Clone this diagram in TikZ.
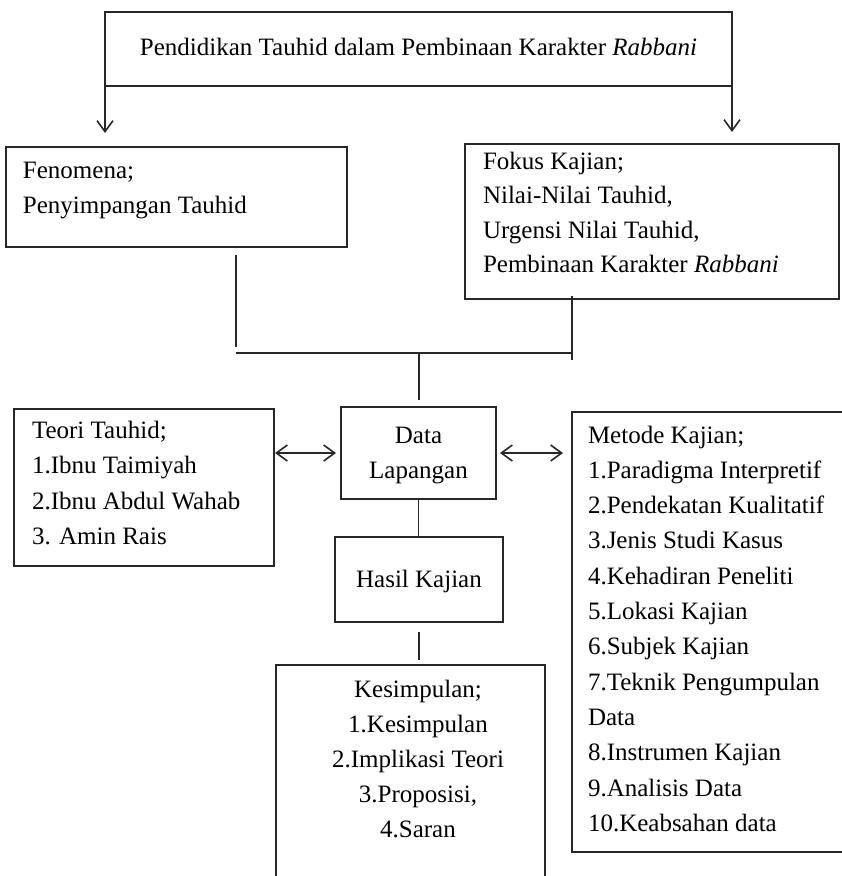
\documentclass[tikz,border=0pt]{standalone}
\usepackage{fontspec}
\setmainfont{Liberation Serif}
\usetikzlibrary{arrows.meta}
\definecolor{ink}{RGB}{40,40,40}
\begin{document}
\begin{tikzpicture}[x=1pt,y=-1pt,
  box/.style={draw=ink, line width=1.6pt, rectangle, inner sep=0pt, outer sep=0pt},
  link/.style={draw=ink, line width=1.6pt},
  barb/.tip={Straight Barb[length=11pt,width=16pt]},
  tip/.style={-barb},
  dtip/.style={barb-barb},
  txt/.style={inner sep=0pt, outer sep=0pt, text=black, font=\fontsize{25}{35}\selectfont}]

\useasboundingbox (0,0) rectangle (842,876);
\clip (0,0) rectangle (842,876);

% frames
\node[box, minimum width=627pt, minimum height=74pt]  (title)      at (418.5,49)  {};
\node[box, minimum width=341pt, minimum height=100pt] (fenomena)   at (176.5,197) {};
\node[box, minimum width=374pt, minimum height=155pt] (fokus)      at (652,221.5) {};
\node[box, minimum width=260pt, minimum height=157pt] (teori)      at (144,487.5) {};
\node[box, minimum width=155pt, minimum height=92pt]  (data)       at (418.5,453) {};
\node[box, minimum width=278pt, minimum height=440pt] (metode)     at (711,632)   {};
\node[box, minimum width=168pt, minimum height=85pt]  (hasil)      at (419,579.5) {};
\node[box, minimum width=269pt, minimum height=235pt] (kesimpulan) at (410.5,782.5) {};

% texts
\node[txt, anchor=base] (titletext) at (418.5,55)
  {Pendidikan Tauhid dalam Pembinaan Karakter \textit{Rabbani}};
\node[txt, anchor=base west] (fenomenatext) at (23,178)
  {\parbox[t]{320pt}{\fontsize{25}{35}\selectfont\raggedright
   Fenomena;\\Penyimpangan Tauhid}};
\node[txt, anchor=base west] (fokustext) at (483,169)
  {\parbox[t]{350pt}{\fontsize{25}{34.5}\selectfont\raggedright
   Fokus Kajian;\\Nilai-Nilai Tauhid,\\Urgensi Nilai Tauhid,\\Pembinaan Karakter \textit{Rabbani}}};
\node[txt, anchor=base west] (teoritext) at (32,438)
  {\parbox[t]{240pt}{\fontsize{25}{35.5}\selectfont\raggedright
   Teori Tauhid;\\1.Ibnu Taimiyah\\2.Ibnu Abdul Wahab\\3. Amin Rais}};
\node[txt, anchor=base] (datatext) at (418.5,443)
  {\parbox[t]{150pt}{\fontsize{25}{35}\selectfont\centering
   Data\\Lapangan}};
\node[txt, anchor=base] (hasiltext) at (419,587) {Hasil Kajian};
\node[txt, anchor=base] (kesimpulantext) at (418,697)
  {\parbox[t]{260pt}{\fontsize{25}{35}\selectfont\centering
   Kesimpulan;\\1.Kesimpulan\\2.Implikasi Teori\\3.Proposisi,\\4.Saran}};
\node[txt, anchor=base west] (metodetext) at (588,443)
  {\parbox[t]{250pt}{\fontsize{25}{35.3}\selectfont\raggedright
   Metode Kajian;\\1.Paradigma Interpretif\\2.Pendekatan Kualitatif\\3.Jenis Studi Kasus\\4.Kehadiran Peneliti\\5.Lokasi Kajian\\6.Subjek Kajian\\7.Teknik Pengumpulan\\Data\\8.Instrumen Kajian\\9.Analisis Data\\10.Keabsahan data}};

% arrows from the title frame
\draw[link, tip, shorten >=14pt] (title.south west) -- (title.south west |- fenomena.north);
\draw[link, tip, shorten >=12pt] (title.south east) -- (title.south east |- fokus.north);

% joining lines below the two upper frames
\coordinate (jl) at (236,353);
\coordinate (jr) at (572,353);
\coordinate (jm) at (419,353);
\draw[link, shorten <=8pt, shorten >=6pt] (jl |- fenomena.south) -- (jl);
\draw[link] (jl) -- (jr);
\draw[link, shorten <=-3pt, shorten >=-7pt] (jr |- fokus.south) -- (jr);
\draw[link, shorten >=7pt] (jm) -- (jm |- data.north);

% side links of the data frame
\draw[link, dtip, shorten <=5pt, shorten >=1pt] (data.west) -- (data.west -| teori.east);
\draw[link, dtip, shorten <=4pt, shorten >=9pt] (data.east) -- (data.east -| metode.west);

% downward chain
\draw[link] (data.south) -- (data.south |- hasil.north);
\draw[link, shorten <=10pt, shorten >=5pt] (hasil.south) -- (hasil.south |- kesimpulan.north);
\end{tikzpicture}
\end{document}
